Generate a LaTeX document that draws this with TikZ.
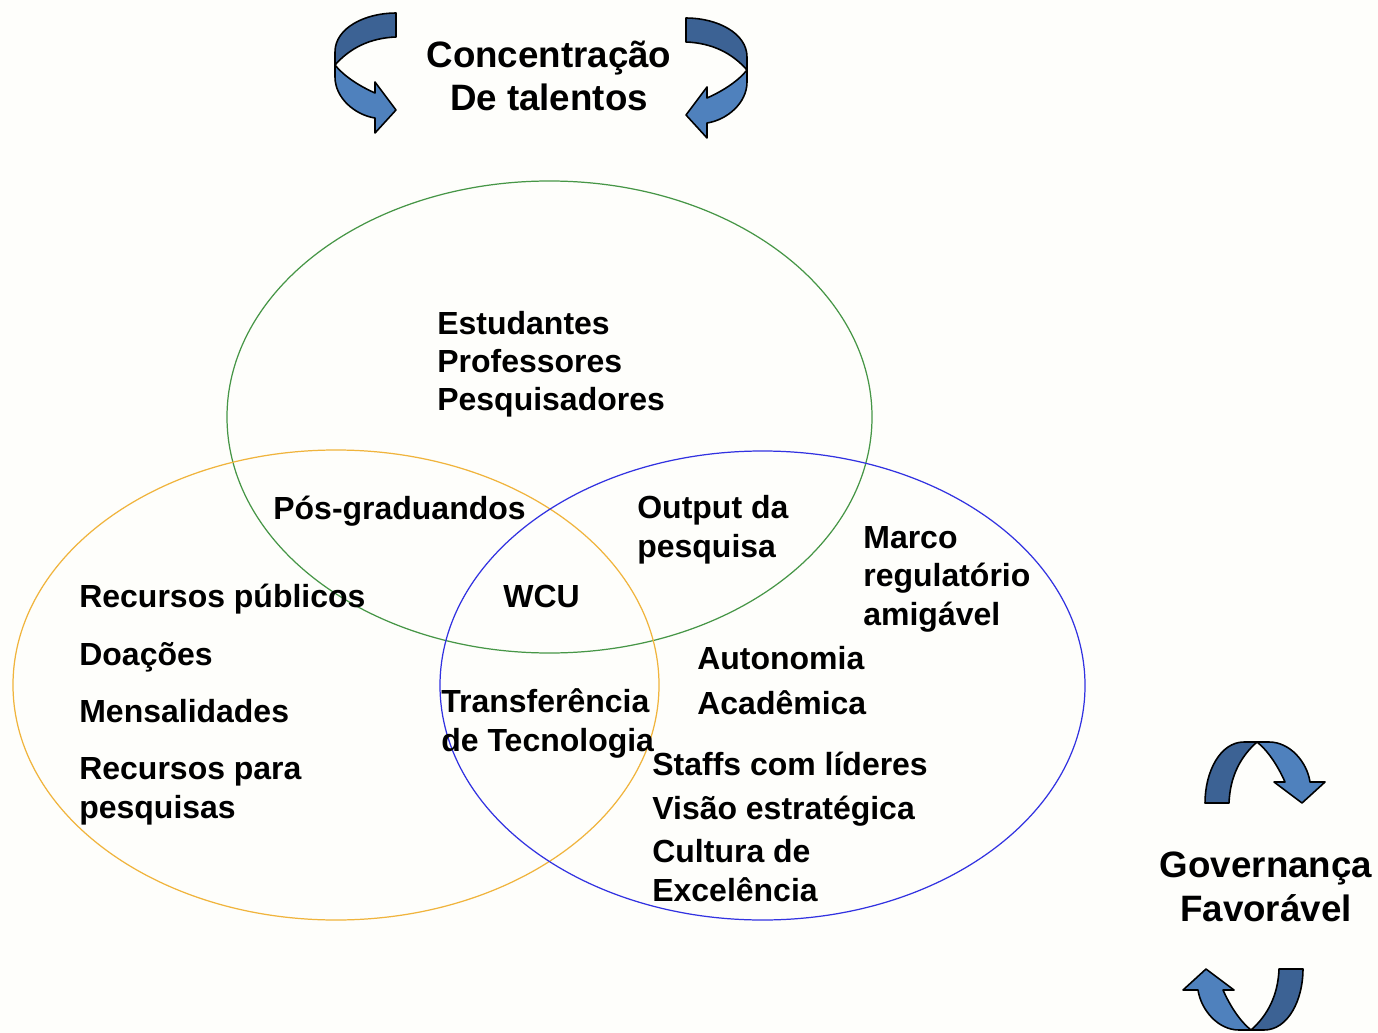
\documentclass[tikz,border=0pt]{standalone}
\usepackage{fontspec}
\setmainfont{Liberation Sans}

\definecolor{paper}{RGB}{254,254,251}
\definecolor{greenring}{RGB}{70,150,70}
\definecolor{orangering}{RGB}{240,180,60}
\definecolor{bluering}{RGB}{50,50,225}
\definecolor{ribbonlight}{RGB}{79,129,189}
\definecolor{ribbondark}{RGB}{60,98,148}

\tikzset{
  ring/.style={line width=0.7pt},
  label text/.style={font=\bfseries\fontsize{18.2}{21.9}\selectfont, inner sep=0pt, anchor=base west, align=left},
  title text/.style={font=\bfseries\fontsize{20.9}{25}\selectfont, inner sep=0pt, anchor=base, align=center},
  ribbon/.style={draw=black, line width=0.9pt, line join=round},
}

% one twisted arrow, drawn round (0,0), in pixel units
\newcommand{\ribbonarrow}{%
  \path [ribbon, fill=ribbondark] (31,-60) .. controls (0,-60) and (-30,-45) .. (-30,-21)
    -- (-30,-8) .. controls (-15,-25) and (5,-35) .. (31,-36) -- cycle;
  \path [ribbon, fill=ribbonlight] (-30,-8) -- (-30,4) .. controls (-30,25) and (-10,42) .. (10,45)
    -- (10,60) -- (31,37) -- (10,9) -- (10,20)
    .. controls (-8,12) and (-22,2) .. (-30,-8) -- cycle;
}

\begin{document}
\begin{tikzpicture}[x=0.02cm, y=-0.02cm]
  \useasboundingbox (0,0) rectangle (1378,1033);
  \fill [paper] (0,0) rectangle (1378,1033);

  % the three circles
  \draw [ring, greenring] (549.5,417) ellipse [x radius=322.5, y radius=236];
  \draw [ring, orangering] (336,685) ellipse [x radius=323, y radius=235];
  \draw [ring, bluering] (762.5,685.5) ellipse [x radius=322.5, y radius=234.5];

  % curved arrows
  \begin{scope}[shift={(365,73)}] \ribbonarrow \end{scope}
  \begin{scope}[shift={(717,78)}, xscale=-1] \ribbonarrow \end{scope}
  \begin{scope}[shift={(1265,772)}, cm={0,-1,-1,0,(0,0)}] \ribbonarrow \end{scope}
  \begin{scope}[shift={(1243,1000)}, cm={0,1,1,0,(0,0)}] \ribbonarrow \end{scope}

  % multi-line texts sit on the baseline of their last line
  \node (talentos) at (549,111) [title text] {Concentração\\De talentos};
  \node (governanca) at (1266,921) [title text] {Governança\\Favorável};

  \node (pessoas) at (437,411) [label text] {Estudantes\\Professores\\Pesquisadores};
  \node (posgrad) at (273,519) [label text] {Pós-graduandos};
  \node (output) at (637,557) [label text] {Output da\\pesquisa};
  \node (marco) at (863,625) [label text] {Marco\\regulatório\\amigável};
  \node (publicos) at (79,607) [label text] {Recursos públicos};
  \node (doacoes) at (79,665) [label text] {Doações};
  \node (mensal) at (79,722) [label text] {Mensalidades};
  \node (pesquisas) at (79,818) [label text] {Recursos para\\pesquisas};
  \node (wcu) at (503,607) [label text] {WCU};
  \node (autonomia) at (697,669) [label text] {Autonomia};
  \node (academica) at (697,714) [label text] {Acadêmica};
  \node (transf) at (441,751) [label text] {Transferência\\de Tecnologia};
  \node (staffs) at (652,775) [label text] {Staffs com líderes};
  \node (visao) at (652,819) [label text] {Visão estratégica};
  \node (cultura) at (652,901) [label text] {Cultura de\\Excelência};
\end{tikzpicture}
\end{document}
